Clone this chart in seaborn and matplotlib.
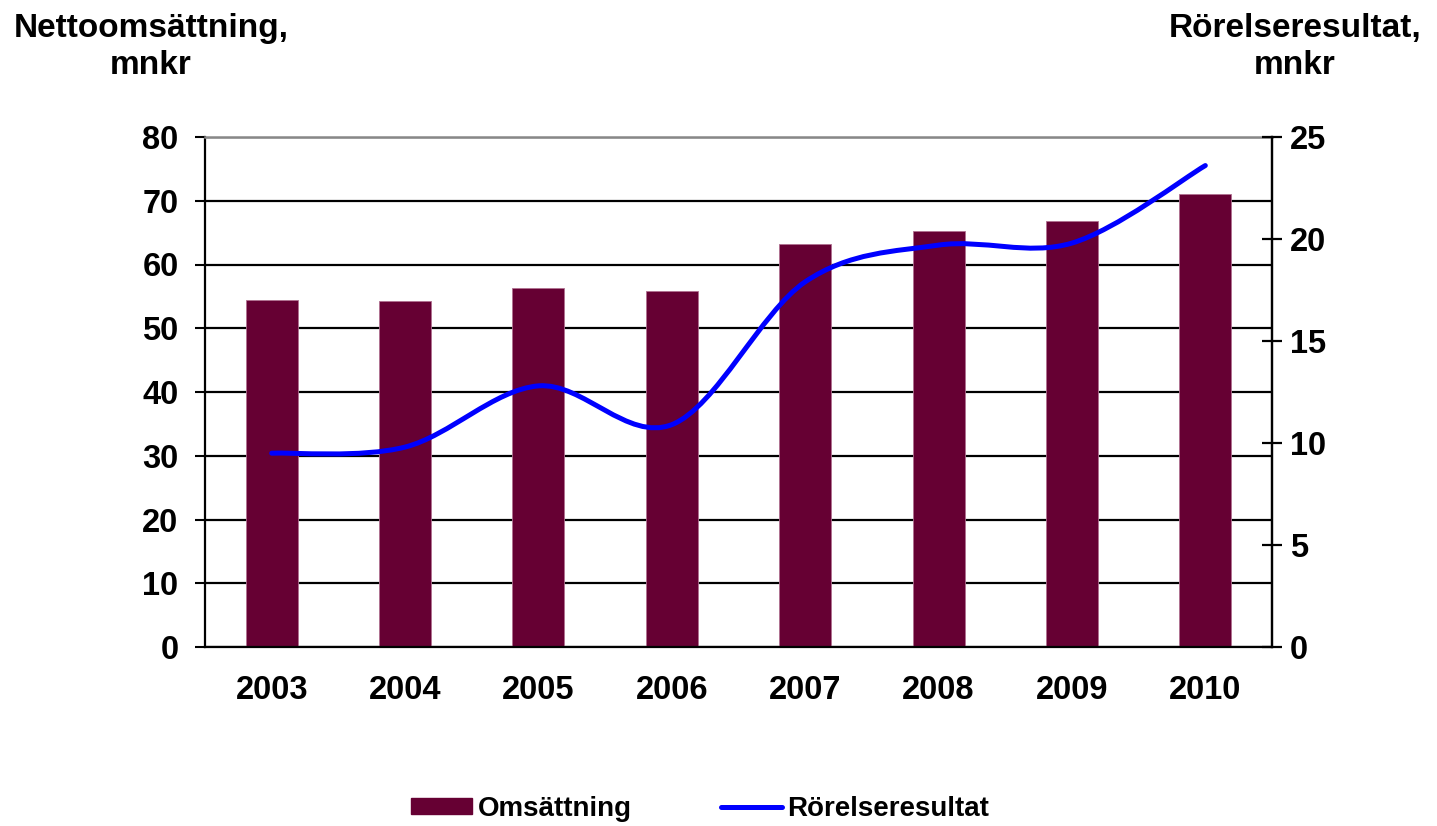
import numpy as np
import pandas as pd
import matplotlib
matplotlib.use("Agg")
import matplotlib.pyplot as plt
from matplotlib.path import Path
from matplotlib.patches import PathPatch, Patch
from matplotlib.lines import Line2D
from matplotlib.ticker import FixedLocator
import seaborn as sns

# Data
years = ["2003", "2004", "2005", "2006", "2007", "2008", "2009", "2010"]
omsattning = [54.5, 54.2, 56.3, 55.9, 63.2, 65.3, 66.8, 71.1]      # mnkr, left axis
rorelseresultat = [9.5, 9.8, 12.8, 10.9, 17.9, 19.7, 19.8, 23.6]   # mnkr, right axis
left_ticks = [0, 10, 20, 30, 40, 50, 60, 70, 80]
right_ticks = [0, 5, 10, 15, 20, 25]

sns.set_style("white")
plt.rcParams["font.family"] = ["Liberation Sans", "DejaVu Sans"]
plt.rcParams["font.weight"] = "bold"
plt.rcParams["text.color"] = "black"
plt.rcParams["xtick.color"] = "black"
plt.rcParams["ytick.color"] = "black"
plt.rcParams["xtick.labelcolor"] = "black"
plt.rcParams["ytick.labelcolor"] = "black"

BAR_COLOR = "#660033"
LINE_COLOR = "#0000FF"
TICK_FS = 23.5

fig = plt.figure(figsize=(14.37, 8.26), dpi=100)
ax = fig.add_axes([205 / 1437, 1 - 647 / 826, (1272 - 205) / 1437, (647 - 137) / 826])

df = pd.DataFrame({"year": years, "value": omsattning})
sns.barplot(data=df, x="year", y="value", color=BAR_COLOR, width=0.39,
            saturation=1, edgecolor="#b07090", linewidth=0.6, ax=ax, zorder=2)

ax.set_xlim(-0.5, len(years) - 0.5)
ax.set_ylim(0, 80)
ax.set_yticks(left_ticks)
ax.set_yticklabels([str(t) for t in left_ticks], fontsize=TICK_FS, fontweight="bold", color="black")
ax.set_xticks(range(len(years)))
ax.set_xticklabels(years, fontsize=TICK_FS, fontweight="bold", color="black")
ax.xaxis.set_minor_locator(FixedLocator(np.arange(-0.5, len(years), 1.0)))
ax.tick_params(axis="x", which="major", length=0, pad=20)
ax.tick_params(axis="x", which="minor", length=7, width=1.5, color="black", direction="out")
ax.tick_params(axis="y", which="major", length=7, width=1.5, color="black", direction="out", pad=12)
ax.set_xlabel("")
ax.set_ylabel("")
ax.yaxis.grid(True, color="black", linewidth=1.6)
ax.set_axisbelow(True)
for side in ["left", "bottom", "right"]:
    ax.spines[side].set_color("black")
    ax.spines[side].set_linewidth(1.6)
ax.spines["top"].set_color("#888888")
ax.spines["top"].set_linewidth(1.8)

# Secondary axis for the operating result
ax2 = ax.twinx()
ax2.set_ylim(0, 25)
ax2.set_yticks(right_ticks)
ax2.set_yticklabels([str(t) for t in right_ticks], fontsize=TICK_FS, fontweight="bold", color="black")
ax2.tick_params(axis="y", length=14, width=1.6, color="black", direction="inout", pad=6)
for side in ["left", "bottom", "top"]:
    ax2.spines[side].set_visible(False)
ax2.spines["right"].set_color("black")
ax2.spines["right"].set_linewidth(1.6)
ax2.grid(False)

# Smoothed line through the yearly points (Catmull-Rom segments as cubic Béziers)
pts = np.column_stack([np.arange(len(years), dtype=float), np.array(rorelseresultat, dtype=float)])
verts = [pts[0]]
codes = [Path.MOVETO]
n = len(pts)
for i in range(n - 1):
    p0 = pts[i - 1] if i > 0 else pts[i]
    p1 = pts[i]
    p2 = pts[i + 1]
    p3 = pts[i + 2] if i + 2 < n else pts[i + 1]
    verts += [p1 + (p2 - p0) / 6.0, p2 - (p3 - p1) / 6.0, p2]
    codes += [Path.CURVE4] * 3
ax2.add_patch(PathPatch(Path(verts, codes), facecolor="none", edgecolor=LINE_COLOR,
                        linewidth=3.6, capstyle="round", joinstyle="round", zorder=3))

# Axis titles
fig.text(151 / 1437, 1 - 13 / 826, "Nettoomsättning,\nmnkr", ha="center", va="top",
         fontsize=24, fontweight="bold", multialignment="center", linespacing=1.25)
fig.text(1295 / 1437, 1 - 13 / 826, "Rörelseresultat,\nmnkr", ha="center", va="top",
         fontsize=24, fontweight="bold", multialignment="center", linespacing=1.25)

# Legend
handles = [Patch(facecolor=BAR_COLOR, edgecolor=BAR_COLOR),
           Line2D([0], [0], color=LINE_COLOR, linewidth=3.6)]
fig.legend(handles, ["Omsättning", "Rörelseresultat"], loc="center",
           bbox_to_anchor=(700 / 1437, 1 - 809 / 826), ncol=2, frameon=False,
           prop={"size": 20, "weight": "bold"}, handlelength=2.2, handleheight=0.5,
           handletextpad=0.2, columnspacing=3.2, labelcolor="black")

fig.savefig("out.png", dpi=100)
